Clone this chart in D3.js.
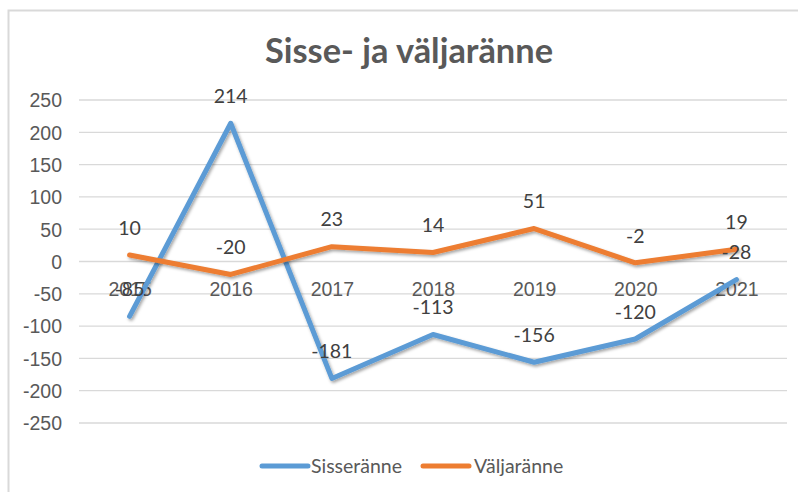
<!DOCTYPE html>
<html><head><meta charset="utf-8">
<script src="https://cdn.jsdelivr.net/npm/d3@7"></script>
<style>
html,body{margin:0;padding:0;background:#fff;}
svg{display:block;font-family:Lato,"Open Sans","Liberation Sans",sans-serif;}
</style></head>
<body>
<svg id="c" width="798" height="492"></svg>
<script>
const categories = ["2015","2016","2017","2018","2019","2020","2021"];
const sisseranne = [-85, 214, -181, -113, -156, -120, -28];
const valjaranne = [10, -20, 23, 14, 51, -2, 19];
const yTicks = [-250,-200,-150,-100,-50,0,50,100,150,200,250];
const seriesNames = ["Sisseränne","Väljaränne"];
const seriesColors = ["#5B9BD5","#ED7D31"];
const title = "Sisse- ja väljaränne";

const svg = d3.select("#c");
const W = 798, H = 492;
const plot = {left:79, right:787, top:100, bottom:423};
const FS = 19.5;

const defs = svg.append("defs");
const f = defs.append("filter").attr("id","sh").attr("x","-10%").attr("y","-10%").attr("width","120%").attr("height","130%");
f.append("feDropShadow").attr("dx",1.5).attr("dy",2).attr("stdDeviation",1.5).attr("flood-color","#000").attr("flood-opacity",0.35);

// chart border
svg.append("path").attr("d",`M8.5,${H} V10.5 H${W}`).attr("fill","none").attr("stroke","#D9D9D9").attr("stroke-width",2);

svg.append("text").attr("x",409).attr("y",63).attr("text-anchor","middle")
  .attr("font-size",34).attr("font-weight","bold").attr("fill","#595959")
  .attr("textLength",288).attr("lengthAdjust","spacingAndGlyphs").text(title);

const x = d3.scalePoint().domain(categories).range([plot.left, plot.right]).padding(0.5);
const y = d3.scaleLinear().domain([-250,250]).range([plot.bottom, plot.top]);

// gridlines
svg.append("g").selectAll("line").data(yTicks).join("line")
  .attr("x1",plot.left).attr("x2",plot.right)
  .attr("y1",d=>y(d)).attr("y2",d=>y(d))
  .attr("stroke","#D9D9D9").attr("stroke-width",1.3);

// y axis labels
const yAxis = d3.axisLeft(y).tickValues(yTicks).tickSize(0).tickPadding(0).tickFormat(d=>d);
const ya = svg.append("g").attr("transform",`translate(62,0)`).call(yAxis);
ya.select(".domain").remove();
ya.selectAll("text").attr("font-size",FS).attr("fill","#595959").attr("font-family",null).attr("dy","0.35em");

// x axis labels at y=0
const xAxis = d3.axisBottom(x).tickSize(0).tickPadding(0);
const xa = svg.append("g").attr("transform",`translate(0,${y(0)+28})`).call(xAxis);
xa.select(".domain").remove();
xa.selectAll("text").attr("font-size",FS).attr("fill","#595959").attr("font-family",null).attr("dy","0.35em");

const series = [sisseranne, valjaranne];
const line = d3.line().x((d,i)=>x(categories[i])).y(d=>y(d));
series.forEach((s,k)=>{
  svg.append("path").datum(s).attr("d",line).attr("fill","none")
    .attr("stroke",seriesColors[k]).attr("stroke-width",5).attr("stroke-linejoin","round").attr("stroke-linecap","round")
    .attr("filter","url(#sh)");
});
series.forEach((s,k)=>{
  svg.append("g").selectAll("text").data(s).join("text")
    .attr("x",(d,i)=>x(categories[i])).attr("y",d=>y(d)-27).attr("dy","0.35em")
    .attr("text-anchor","middle").attr("font-size",FS).attr("fill","#404040").text(d=>d);
});

// legend
const leg = [{x:262,tx:311},{x:423,tx:474}];
seriesNames.forEach((n,k)=>{
  svg.append("line").attr("x1",leg[k].x).attr("x2",leg[k].x+46).attr("y1",466).attr("y2",466)
    .attr("stroke",seriesColors[k]).attr("stroke-width",5).attr("stroke-linecap","round");
  svg.append("text").attr("x",leg[k].tx).attr("y",466).attr("dy","0.35em").attr("font-size",FS).attr("fill","#595959").text(n);
});
</script>
</body></html>
